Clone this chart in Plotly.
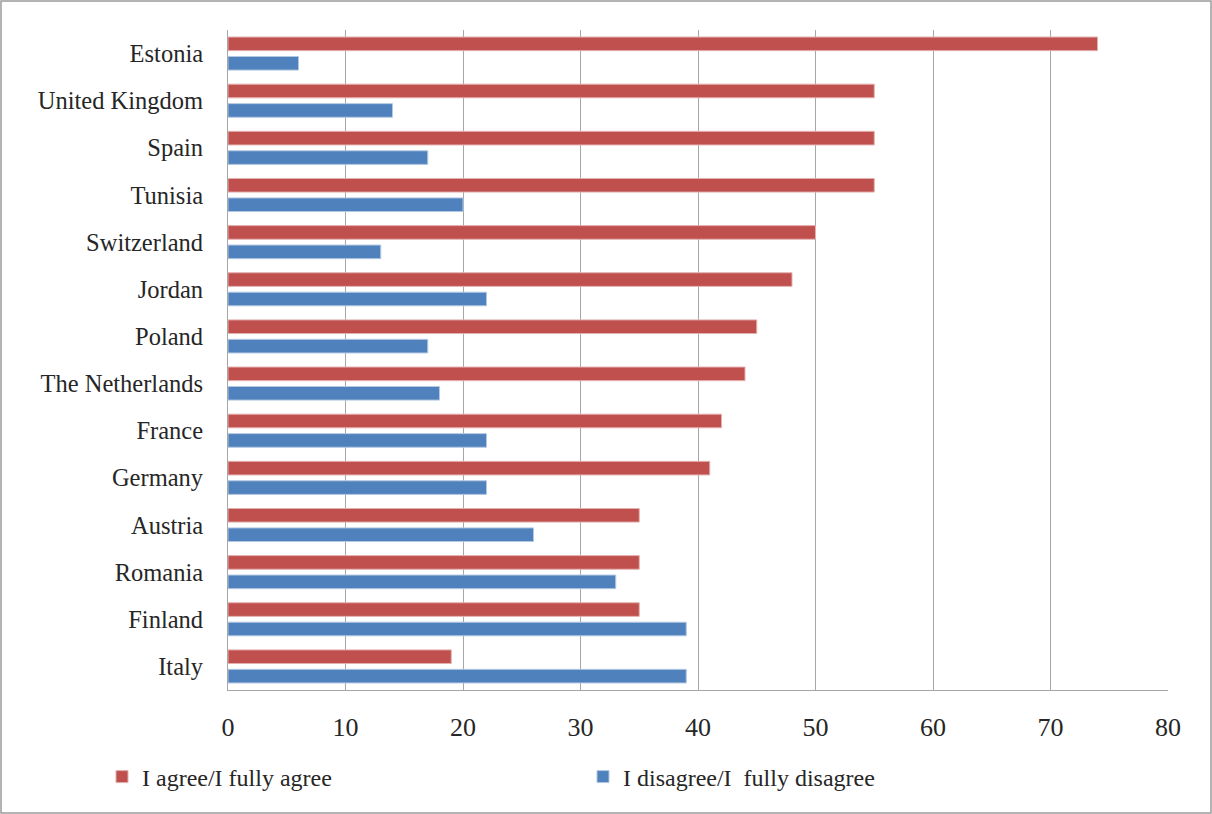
import plotly.graph_objects as go

countries = ["Estonia", "United Kingdom", "Spain", "Tunisia", "Switzerland", "Jordan",
             "Poland", "The Netherlands", "France", "Germany", "Austria", "Romania",
             "Finland", "Italy"]
agree = [74, 55, 55, 55, 50, 48, 45, 44, 42, 41, 35, 35, 35, 19]
disagree = [6, 14, 17, 20, 13, 22, 17, 18, 22, 22, 26, 33, 39, 39]
x_ticks = [0, 10, 20, 30, 40, 50, 60, 70, 80]

RED = "#C0504D"
BLUE = "#4F81BD"
FONT = "Liberation Serif"

W, H = 1212, 814
ML, MR, MT, MB = 228, 44, 30, 124
PW, PH = W - ML - MR, H - MT - MB

fig = go.Figure()
fig.add_trace(go.Bar(y=countries, x=agree, orientation="h", name="I agree/I fully agree",
                     marker=dict(color=RED, line=dict(color="#E3B0AF", width=1))))
fig.add_trace(go.Bar(y=countries, x=disagree, orientation="h", name="I disagree/I  fully disagree",
                     marker=dict(color=BLUE, line=dict(color="#B3C8E2", width=1))))

legend_text_y = 777
fig.update_layout(
    width=W, height=H,
    margin=dict(l=ML, r=MR, t=MT, b=MB),
    paper_bgcolor="white", plot_bgcolor="white",
    barmode="group", bargap=0.175, bargroupgap=0.3,
    font=dict(family=FONT, size=24, color="#262626"),
    xaxis=dict(range=[0, 80], tickvals=x_ticks, showgrid=True, gridcolor="#A6A6A6",
               gridwidth=1, showline=True, linecolor="#A6A6A6", zeroline=False,
               ticks="", ticklabelstandoff=14, tickfont=dict(size=26)),
    yaxis=dict(autorange="reversed", showline=True, linecolor="#A6A6A6", ticks="",
               ticklabelstandoff=19, tickfont=dict(size=24.5)),
    legend=dict(orientation="h", x=(102 - ML) / PW, y=(MT + PH - legend_text_y) / PH,
                xanchor="left", yanchor="middle", font=dict(size=24),
                entrywidth=436, entrywidthmode="pixels", itemwidth=30,
                traceorder="normal"),
    showlegend=True,
)

fig.add_shape(type="rect", xref="paper", yref="paper",
              x0=-(ML - 1) / PW, x1=(W - ML - 1) / PW,
              y0=-(MB - 1) / PH, y1=1 + (MT - 1) / PH,
              line=dict(color="#9A9A9A", width=1.5), fillcolor="rgba(0,0,0,0)", layer="below")

fig.write_html("out.html")
